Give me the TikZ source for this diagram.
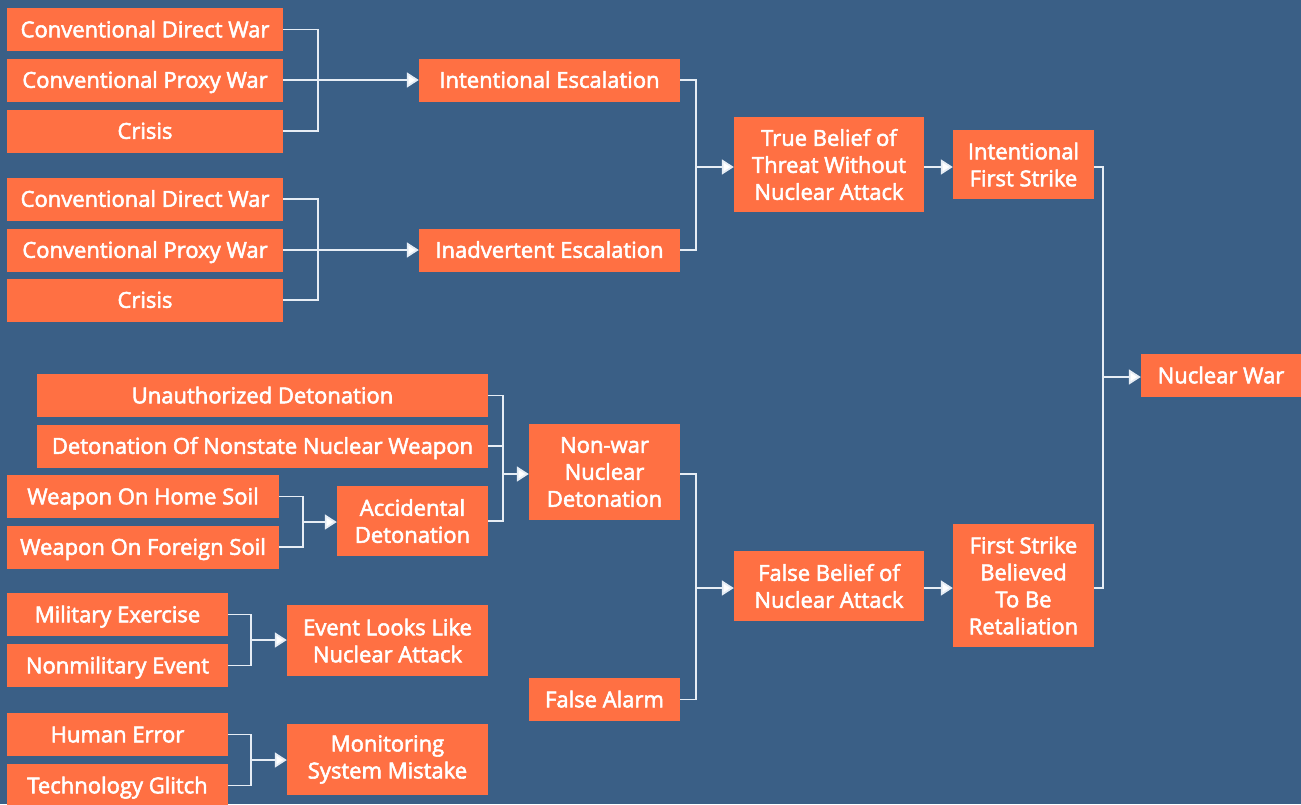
\documentclass[tikz,border=0pt]{standalone}
\usepackage{fontspec}
\setmainfont{Open Sans}[FakeBold=2.5]
\usetikzlibrary{arrows.meta}
\definecolor{bg}{HTML}{3A5F86}
\definecolor{box}{HTML}{FF7043}
\definecolor{ln}{HTML}{E6EDF5}
\tikzset{
  bx/.style={fill=box, text=white, inner sep=0pt, align=center,
    font=\fontsize{22}{27}\selectfont},
  one/.style={bx, text height=15.6pt, text depth=0pt, minimum height=43pt},
  ln/.style={draw=ln, line width=1.8pt},
  arr/.style={ln, -{Triangle[length=12pt,width=15pt,fill=white]}},
}
\begin{document}
\begin{tikzpicture}[x=1pt,y=-1pt]
\fill[bg] (0,0) rectangle (1301,804);
\useasboundingbox (0,0) rectangle (1301,804);
% top group 1
\node[one, minimum width=276pt] (a1) at (145,29.5) {Conventional Direct War};
\node[one, minimum width=276pt] (a2) at (145,80) {Conventional Proxy War};
\node[one, minimum width=276pt] (a3) at (145,131) {Crisis};
\node[one, minimum width=261pt] (ie) at (549.5,80) {Intentional Escalation};
% group 2
\node[one, minimum width=276pt] (b1) at (145,199) {Conventional Direct War};
\node[one, minimum width=276pt] (b2) at (145,250) {Conventional Proxy War};
\node[one, minimum width=276pt] (b3) at (145,300) {Crisis};
\node[one, minimum width=261pt] (ae) at (549.5,250) {Inadvertent Escalation};
% true belief
\node[bx, minimum width=190pt, minimum height=95pt] (tb) at (829,164.5) {True Belief of\\Threat Without\\Nuclear Attack};
\node[bx, minimum width=141pt, minimum height=69pt] (ifs) at (1023.5,164.5) {Intentional\\First Strike};
\node[one, minimum width=160pt] (nw) at (1221,375.5) {Nuclear War};
% non-war
\node[one, minimum width=451pt] (ud) at (262.5,395.5) {Unauthorized Detonation};
\node[one, minimum width=451pt] (dn) at (262.5,446) {Detonation Of Nonstate Nuclear Weapon};
\node[one, minimum width=272pt] (wh) at (143,496.5) {Weapon On Home Soil};
\node[one, minimum width=272pt] (wf) at (143,547) {Weapon On Foreign Soil};
\node[bx, minimum width=151pt, minimum height=70pt] (ad) at (412.5,521) {Accidental\\Detonation};
\node[bx, minimum width=151pt, minimum height=96pt] (nn) at (604.5,472) {Non-war\\Nuclear\\Detonation};
\node[bx, minimum width=190pt, minimum height=70pt] (fb) at (829,586) {False Belief of\\Nuclear Attack};
\node[bx, minimum width=141pt, minimum height=123pt] (fs) at (1023.5,585.5) {First Strike\\Believed\\To Be\\Retaliation};
% false alarm
\node[one, minimum width=221pt] (me) at (117.5,614.5) {Military Exercise};
\node[one, minimum width=221pt] (ne) at (117.5,665.5) {Nonmilitary Event};
\node[bx, minimum width=201pt, minimum height=71pt] (el) at (387.5,640.5) {Event Looks Like\\Nuclear Attack};
\node[one, minimum width=151pt] (fa) at (604.5,699.5) {False Alarm};
\node[one, minimum width=221pt] (he) at (117.5,734.5) {Human Error};
\node[one, minimum width=221pt] (tg) at (117.5,785.5) {Technology Glitch};
\node[bx, minimum width=201pt, minimum height=71pt] (ms) at (387.5,759.5) {Monitoring\\System Mistake};
% junctions
\coordinate (j1) at (318,80);
\coordinate (j2) at (318,250);
\coordinate (j3) at (696,167);
\coordinate (j4) at (1103,377);
\coordinate (j5) at (503,474);
\coordinate (j6) at (303,522);
\coordinate (j7) at (696,588);
\coordinate (j8) at (251,640);
\coordinate (j9) at (251,760);
% connectors
\draw[ln] (a1.east) -- (a1.east -| j1) -- (a3.east -| j1) -- (a3.east);
\draw[arr] (a2.east) -- (ie.west);
\draw[ln] (b1.east) -- (b1.east -| j2) -- (b3.east -| j2) -- (b3.east);
\draw[arr] (b2.east) -- (ae.west);
\draw[ln] (ie.east) -- (ie.east -| j3) -- (ae.east -| j3) -- (ae.east);
\draw[arr] (j3) -- (j3 -| tb.west);
\draw[arr] (tb.east |- j3) -- (j3 -| ifs.west);
\draw[ln] (ifs.east |- j3) -- (j3 -| j4) -- (j4 |- j7) -- (fs.east |- j7);
\draw[arr] (j4) -- (j4 -| nw.west);
\draw[ln] (ud.east) -- (ud.east -| j5) -- (ad.east -| j5) -- (ad.east);
\draw[ln] (dn.east) -- (dn.east -| j5);
\draw[arr] (j5) -- (j5 -| nn.west);
\draw[ln] (wh.east) -- (wh.east -| j6) -- (wf.east -| j6) -- (wf.east);
\draw[arr] (j6) -- (j6 -| ad.west);
\draw[ln] (nn.east |- j5) -- (j5 -| j7) -- (j7 |- fa.east) -- (fa.east);
\draw[arr] (j7) -- (j7 -| fb.west);
\draw[arr] (fb.east |- j7) -- (j7 -| fs.west);
\draw[ln] (me.east) -- (me.east -| j8) -- (ne.east -| j8) -- (ne.east);
\draw[arr] (j8) -- (j8 -| el.west);
\draw[ln] (he.east) -- (he.east -| j9) -- (tg.east -| j9) -- (tg.east);
\draw[arr] (j9) -- (j9 -| ms.west);
\end{tikzpicture}
\end{document}
